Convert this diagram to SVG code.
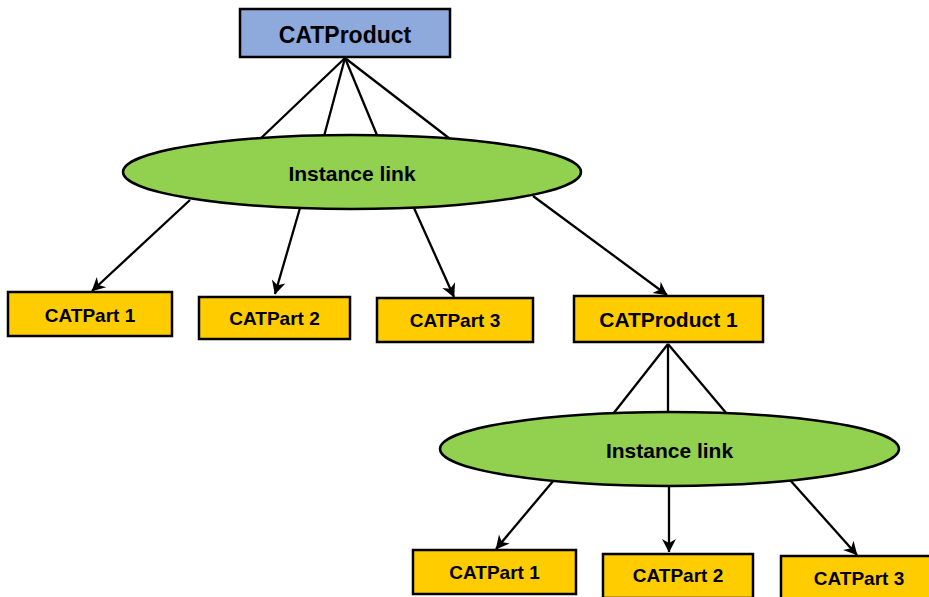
<svg xmlns="http://www.w3.org/2000/svg" width="929" height="597" viewBox="0 0 929 597">
<style>
  .box{stroke:#000;stroke-width:2.5}
  .part{fill:#FFCC00}
  .prod{fill:#8EA9DB}
  .link{fill:#92D050;stroke:#000;stroke-width:2.5}
  .t{font-family:"Liberation Sans",Arial,Helvetica,sans-serif;font-weight:bold;fill:#000;text-anchor:middle}
  .edge{stroke:#000;stroke-width:2.3;fill:none}
</style>
<defs>
  <marker id="arr" markerUnits="userSpaceOnUse" viewBox="-15 -8 16 16" refX="0" refY="0" markerWidth="16" markerHeight="16" orient="auto">
    <path d="M0.5,0 L-13,-7 L-9,0 L-13,7 Z" fill="#000"/>
  </marker>
</defs>
<g id="connectors">
  <path class="edge" d="M345,58 L259,140"/>
  <path class="edge" d="M345,58 L323,140"/>
  <path class="edge" d="M345,58 L379,140"/>
  <path class="edge" d="M345,58 L454,142"/>
  <path class="edge" d="M190,200 L92,291" marker-end="url(#arr)"/>
  <path class="edge" d="M300,208 L275,294" marker-end="url(#arr)"/>
  <path class="edge" d="M414,208 L454,297" marker-end="url(#arr)"/>
  <path class="edge" d="M533,196 L667,295" marker-end="url(#arr)"/>
  <path class="edge" d="M668,344 L613,414"/>
  <path class="edge" d="M668,344 L668,414"/>
  <path class="edge" d="M668,344 L727,414"/>
  <path class="edge" d="M554,480 L496,549" marker-end="url(#arr)"/>
  <path class="edge" d="M669,484 L669,552" marker-end="url(#arr)"/>
  <path class="edge" d="M790,480 L857,555" marker-end="url(#arr)"/>
</g>
<g id="catproduct">
  <rect class="box prod" x="240" y="9" width="210" height="48"/>
  <text class="t" x="345" y="43" font-size="23">CATProduct</text>
</g>
<g id="instance-link-1">
  <ellipse class="link" cx="352" cy="172" rx="229" ry="37"/>
  <text class="t" x="352" y="181" font-size="21">Instance link</text>
</g>
<g id="catpart1-a">
  <rect class="box part" x="8" y="292" width="164" height="44"/>
  <text class="t" x="90" y="322" font-size="19">CATPart 1</text>
</g>
<g id="catpart2-a">
  <rect class="box part" x="199" y="297" width="151" height="42"/>
  <text class="t" x="274.5" y="325" font-size="19">CATPart 2</text>
</g>
<g id="catpart3-a">
  <rect class="box part" x="377" y="298" width="156" height="44"/>
  <text class="t" x="455" y="327" font-size="19">CATPart 3</text>
</g>
<g id="catproduct1">
  <rect class="box part" x="574" y="296" width="189" height="46"/>
  <text class="t" x="668.5" y="327" font-size="21">CATProduct 1</text>
</g>
<g id="instance-link-2">
  <ellipse class="link" cx="669.5" cy="449" rx="229.5" ry="37"/>
  <text class="t" x="669.5" y="458" font-size="21">Instance link</text>
</g>
<g id="catpart1-b">
  <rect class="box part" x="413" y="550" width="163" height="44"/>
  <text class="t" x="494.5" y="579" font-size="19">CATPart 1</text>
</g>
<g id="catpart2-b">
  <rect class="box part" x="603" y="554" width="150" height="44"/>
  <text class="t" x="678" y="582" font-size="19">CATPart 2</text>
</g>
<g id="catpart3-b">
  <rect class="box part" x="781" y="556" width="156" height="44"/>
  <text class="t" x="859" y="585" font-size="19">CATPart 3</text>
</g>
</svg>
